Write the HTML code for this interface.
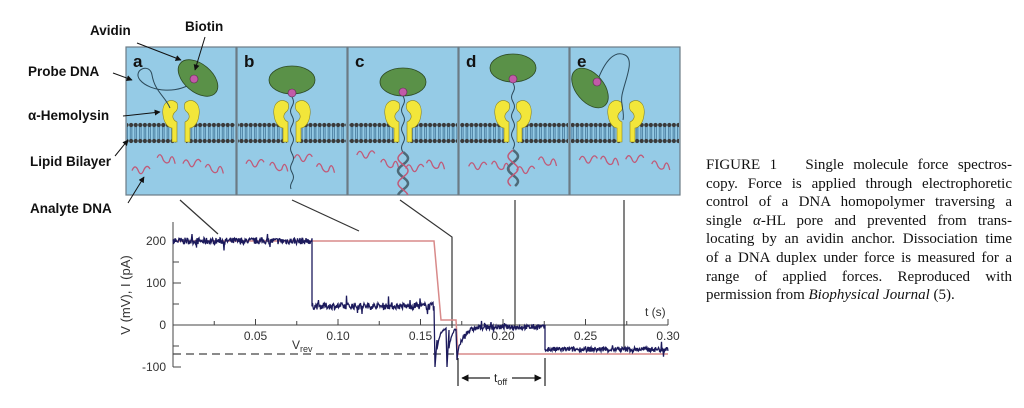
<!DOCTYPE html>
<html><head><meta charset="utf-8">
<style>
html,body{margin:0;padding:0;background:#fff;width:1024px;height:408px;overflow:hidden;position:relative}
svg{position:absolute;left:0;top:0}
.cap{position:absolute;left:706px;top:156px;width:306px;font-family:"Liberation Serif",serif;font-size:15px;line-height:18.6px;color:#111}
.cap div{text-align:justify;text-align-last:justify;white-space:nowrap}
.cap div.l{text-align-last:left}
</style></head><body>
<svg id="s" width="1024" height="408" viewBox="0 0 1024 408" font-family="Liberation Sans, sans-serif">
<defs>
<marker id="ah" viewBox="0 0 10 10" refX="9" refY="5" markerWidth="6" markerHeight="6" orient="auto"><path d="M0,0 L10,5 L0,10 z" fill="#111"/></marker>
<pattern id="bl" x="0" y="122" width="4.6" height="22" patternUnits="userSpaceOnUse">
<line x1="1.5" y1="4" x2="1.5" y2="18" stroke="#3c6f93" stroke-width="0.8"/>
<line x1="3.1" y1="4" x2="3.1" y2="18" stroke="#3c6f93" stroke-width="0.8"/>
<circle cx="2.3" cy="3" r="2.1" fill="#3a3a3a"/>
<circle cx="2.3" cy="19" r="2.1" fill="#3a3a3a"/>
</pattern>
</defs>
<g id="g"></g>
<g font-weight="bold" font-size="13.5" fill="#111">
<text x="90" y="35">Avidin</text>
<text x="185" y="31">Biotin</text>
<text x="28" y="76">Probe DNA</text>
<text x="28" y="120">α-Hemolysin</text>
<text x="30" y="166">Lipid Bilayer</text>
<text x="30" y="213">Analyte DNA</text>
</g>
<g stroke="#111" stroke-width="1" fill="none" marker-end="url(#ah)">
<line x1="137" y1="43" x2="181" y2="60"/>
<line x1="205" y1="37" x2="195" y2="70"/>
<line x1="113" y1="73" x2="132" y2="80"/>
<line x1="123" y1="116" x2="160" y2="112"/>
<line x1="115" y1="156" x2="128" y2="140"/>
<line x1="128" y1="203" x2="144" y2="177"/>
</g>
</svg>
<div class="cap">
<div>FIGURE 1&nbsp;&nbsp; Single molecule force spectros-</div>
<div>copy. Force is applied through electrophoretic</div>
<div>control of a DNA homopolymer traversing a</div>
<div>single <i>α</i>-HL pore and prevented from trans-</div>
<div>locating by an avidin anchor. Dissociation time</div>
<div>of a DNA duplex under force is measured for a</div>
<div>range of applied forces. Reproduced with</div>
<div class="l">permission from <i>Biophysical Journal</i> (5).</div>
</div>
<script>
var g=document.getElementById('g'),h='';
var seed=7;function rnd(){seed=(seed*16807)%2147483647;return seed/2147483647;}
var P=[[126,181],[237,292],[348,403],[459,513],[570,626]],L='abcde';
P.forEach(function(p,i){var x0=p[0],cx=p[1];
h+='<rect x="'+x0+'" y="47" width="110" height="148" fill="#95cbe6" stroke="#6b7b85" stroke-width="1.2"/>';
h+='<rect x="'+(x0+1)+'" y="122" width="108" height="22" fill="url(#bl)"/>';
h+='<rect x="'+(cx-5)+'" y="120" width="10" height="26" fill="#95cbe6"/>';
var half='M-4,103 C-10,97 -20,102 -18,115 C-17,124 -12,128 -9,128 L-9,142 L-4,142 L-4,122 C-8,120 -10,116 -6,112 C-3,110 -3,106 -4,103 Z';
h+='<path d="'+half+'" transform="translate('+cx+',0)" fill="#f2e63a" stroke="#8a8420" stroke-width="0.6"/>';
h+='<path d="'+half+'" transform="translate('+cx+',0) scale(-1,1)" fill="#f2e63a" stroke="#8a8420" stroke-width="0.6"/>';
h+='<text x="'+(x0+7)+'" y="67" font-weight="bold" font-size="17" fill="#111">'+L[i]+'</text>';
for(var k=0;k<4;k++){var sx=x0+6+k*24+rnd()*4,sy=154+rnd()*18,d='M'+sx+','+sy;
for(var j=1;j<=3;j++){d+=' Q'+(sx+j*6-3)+','+(sy+((j%2)?-7:7))+' '+(sx+j*6)+','+(sy+j*(k%2?2:-0.5));}
h+='<path d="'+d+'" fill="none" stroke="#c05a78" stroke-width="1.3"/>';}
});
function wavy(x,y1,y2,a){var d='M'+x+','+y1;for(var y=y1;y<=y2;y+=2)d+=' L'+(x+a*Math.sin((y-y1)/3))+','+y;return '<path d="'+d+'" fill="none" stroke="#2c4a5a" stroke-width="1"/>';}
function helix(x,y1,y2){var d1='M'+x+','+y1,d2=d1;for(var y=y1;y<=y2;y+=1){d1+=' L'+(x+5*Math.sin((y-y1)/4))+','+y;d2+=' L'+(x-5*Math.sin((y-y1)/4))+','+y;}
return '<path d="'+d1+'" fill="none" stroke="#4d6a78" stroke-width="2.5"/><path d="'+d2+'" fill="none" stroke="#c05a78" stroke-width="1.5"/>';}
h+='<path d="M196,80 C180,95 150,92 140,80 C132,70 150,62 152,75 C155,92 165,96 170,108" fill="none" stroke="#2c4a5a" stroke-width="1"/>';
h+=wavy(292,97,190,1.5);
h+=wavy(403,96,152,1.5)+helix(403,152,195);
h+=wavy(513,83,150,1.5)+helix(513,150,186);
h+='<path d="M597,82 C605,60 615,50 625,55 C635,60 625,80 622,95 C620,105 625,112 623,120" fill="none" stroke="#2c4a5a" stroke-width="1"/>';
[[198,78,40],[292,80,0],[403,82,0],[513,68,0],[590,88,50]].forEach(function(a){h+='<ellipse cx="'+a[0]+'" cy="'+a[1]+'" rx="23" ry="14" transform="rotate('+a[2]+' '+a[0]+' '+a[1]+')" fill="#5a9148" stroke="#2d4a25" stroke-width="0.8"/>';});
[[194,79],[292,93],[403,92],[513,79],[597,82]].forEach(function(b){h+='<circle cx="'+b[0]+'" cy="'+b[1]+'" r="4" fill="#c25aa8" stroke="#5a2a50" stroke-width="0.6"/>';});
h+='<g stroke="#333" stroke-width="1.2" fill="none"><line x1="180" y1="200" x2="218" y2="234"/><line x1="292" y1="200" x2="359" y2="231"/><polyline points="400,200 452,237 452,328"/><line x1="515" y1="200" x2="515" y2="326"/><line x1="624" y1="200" x2="624" y2="350"/></g>';
function Y(v){return 325-v*0.42;} function X(t){return 173+t*1650;}
h+='<g stroke="#444" stroke-width="1" fill="none"><line x1="173" y1="222" x2="173" y2="367"/><line x1="173" y1="325" x2="668" y2="325"/>';
[200,150,100,50,0,-50,-100].forEach(function(v){h+='<line x1="173" y1="'+Y(v)+'" x2="'+(v%100==0?181:179)+'" y2="'+Y(v)+'"/>';});
for(var t=0.025;t<0.31;t+=0.025){h+='<line x1="'+X(t)+'" y1="325" x2="'+X(t)+'" y2="'+(325-(Math.round(t*40)%2==0?6:4))+'"/>';}
h+='</g>';
h+='<g font-size="12" fill="#333" text-anchor="end"><text x="166" y="245">200</text><text x="166" y="287">100</text><text x="166" y="329">0</text><text x="166" y="371">-100</text></g>';
h+='<g font-size="12" fill="#333" text-anchor="middle">';['0.05','0.10','0.15','0.20','0.25','0.30'].forEach(function(s,i){h+='<text x="'+X(0.05*(i+1))+'" y="340">'+s+'</text>';});h+='</g>';
h+='<text x="645" y="316" font-size="12" fill="#333">t (s)</text>';
h+='<text transform="translate(130,295) rotate(-90)" text-anchor="middle" font-size="13" fill="#333">V (mV), I (pA)</text>';
h+='<text x="292" y="349" font-size="12" fill="#333">V<tspan font-size="9" dy="3">rev</tspan></text>';
h+='<line x1="173" y1="354" x2="456" y2="354" stroke="#444" stroke-width="1.2" stroke-dasharray="8,5"/>';
h+='<polyline points="173,241 434,241 441,320 456,320 458,354 668,354" fill="none" stroke="#d88a8a" stroke-width="1.5"/>';
function seg(x1,x2,f,amp){var d='';for(var x=x1;x<=x2;x+=0.5){var v=f(x)+(rnd()-0.5)*amp;if(rnd()<0.05)v+=(rnd()-0.5)*amp*2.5;d+=(d?' L':'M')+x+','+Y(v).toFixed(1);}return d;}
var bd=seg(173,312,function(){return 200},16)+' L312,306 '+seg(312,434,function(){return 45},16).replace('M',' L')+' L435,367 L437,340 '+seg(437,446,function(x){return -5-55*Math.exp(-(x-437)/3)},5).replace('M',' L')+' L447,367 L449,330 '+seg(449,456,function(x){return -5-50*Math.exp(-(x-449)/3)},5).replace('M',' L')+' L457,360 '+seg(458,545,function(x){return -5-60*Math.exp(-(x-458)/6)},12).replace('M',' L')+' L545,350 '+seg(545,668,function(){return -58},12).replace('M',' L');
h+='<path d="'+bd+'" fill="none" stroke="#1c1a5c" stroke-width="1.3"/>';
h+='<g stroke="#222" stroke-width="1.2"><line x1="458" y1="358" x2="458" y2="386"/><line x1="545" y1="358" x2="545" y2="386"/><line x1="462" y1="378" x2="490" y2="378" marker-end="url(#ah)" transform="rotate(180 476 378)"/><line x1="512" y1="378" x2="541" y2="378" marker-end="url(#ah)"/></g>';
h+='<text x="494" y="382" font-size="12" fill="#222">t<tspan font-size="9" dy="3">off</tspan></text>';
g.innerHTML=h;
</script>
</body></html>
